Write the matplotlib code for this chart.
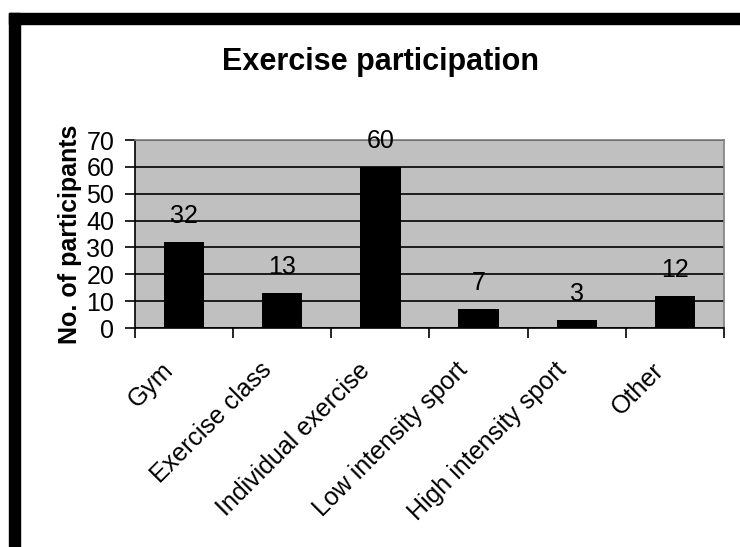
import numpy as np
import matplotlib.pyplot as plt
from matplotlib.patches import Rectangle
from matplotlib.transforms import ScaledTranslation

categories = ['Gym', 'Exercise class', 'Individual exercise', 'Low intensity sport',
              'High intensity sport', 'Other']
participants = [32, 13, 60, 7, 3, 12]
yticks = [0, 10, 20, 30, 40, 50, 60, 70]

plt.rcParams['font.family'] = ['Liberation Sans', 'DejaVu Sans']

fig = plt.figure(figsize=(7.4, 5.47), dpi=100)
# black frame on top and left
fig.patches.append(Rectangle((9/740, 0), 11/740, 1-13/547, transform=fig.transFigure,
                             color='black', zorder=0))
fig.patches.append(Rectangle((9/740, 1-24/547), 1, 11/547, transform=fig.transFigure,
                             color='black', zorder=0))

ax = fig.add_axes([135/740, 1-328/547, 589/740, 188/547])
ax.set_facecolor('#c0c0c0')
x = np.arange(len(categories))
ax.bar(x, participants, width=0.41, color='black', zorder=3)
ax.set_xlim(-0.5, len(categories)-0.5)
ax.set_ylim(0, 70)
ax.set_yticks(yticks)
ax.yaxis.grid(True, color='black', linewidth=1.2, zorder=1)
ax.set_axisbelow(True)

for xi, v in zip(x, participants):
    ax.annotate(str(v), (xi, v), xytext=(0, 10), textcoords='offset points',
                ha='center', va='bottom', fontsize=18, zorder=4)

# category boundary ticks, labels placed separately
ax.set_xticks(np.arange(len(categories)+1)-0.5)
ax.set_xticklabels([])
lab_tr = ax.get_xaxis_transform() + ScaledTranslation(-23/100, -30/100, fig.dpi_scale_trans)
for xi, name in zip(x, categories):
    ax.text(xi, 0, name, transform=lab_tr, rotation=45, ha='right', va='top',
            rotation_mode='anchor', fontsize=18)
ax.tick_params(axis='x', length=7, width=1.2, direction='out')
ax.tick_params(axis='y', length=7, width=1.2, labelsize=18, pad=8)

for s in ['top', 'right']:
    ax.spines[s].set_color('#808080')
    ax.spines[s].set_linewidth(1.2)
for s in ['left', 'bottom']:
    ax.spines[s].set_color('black')
    ax.spines[s].set_linewidth(1.2)

ax.set_ylabel('No. of participants', fontsize=18, fontweight='bold', labelpad=3)
fig.text(381/740, 1-62/547, 'Exercise participation', ha='center', va='center',
         fontsize=22, fontweight='bold')

fig.savefig('out.png', dpi=100)
